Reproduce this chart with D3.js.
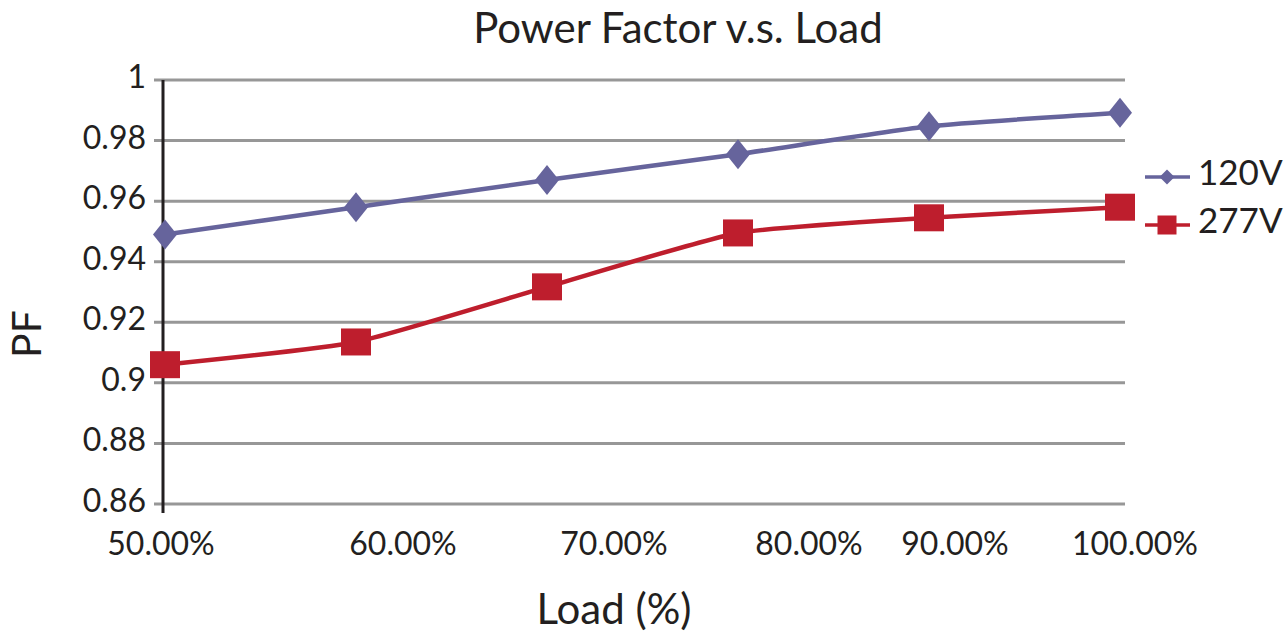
<!DOCTYPE html>
<html>
<head>
<meta charset="utf-8">
<script src="https://cdn.jsdelivr.net/npm/d3@7"></script>
<style>
  html, body { margin: 0; padding: 0; background: #fff; }
  svg { display: block; font-family: Lato, "Open Sans", sans-serif; }
</style>
</head>
<body>
<svg id="chart" width="1286" height="635"></svg>
<script>
// ---- data ----
const categories = ["50.00%", "60.00%", "70.00%", "80.00%", "90.00%", "100.00%"];
const pf120 = [0.949, 0.958, 0.967, 0.9755, 0.9847, 0.9892];
const pf277 = [0.906, 0.9135, 0.9317, 0.9495, 0.9545, 0.958];
const yTicks = [0.86, 0.88, 0.9, 0.92, 0.94, 0.96, 0.98, 1];
const seriesNames = ["120V", "277V"];

// ---- layout / style ----
const labelNudge = [-2, 49, 69, 73, 28, 17]; // horizontal offsets of x tick labels (px)
const colors = { "120V": "#66649c", "277V": "#be1e2d" };

const svg = d3.select("#chart");
const x = d3.scalePoint().domain(categories).range([165, 1120]);
const y = d3.scaleLinear().domain([0.86, 1]).range([504, 80]);

// gridlines
svg.append("g").selectAll("line").data(yTicks).join("line")
  .attr("x1", 154).attr("x2", 1125)
  .attr("y1", d => y(d)).attr("y2", d => y(d))
  .attr("stroke", "#979797").attr("stroke-width", 3);

// y axis line
svg.append("line").attr("x1", 163).attr("x2", 163)
  .attr("y1", y(1)).attr("y2", y(0.86) + 9)
  .attr("stroke", "#231f20").attr("stroke-width", 3);

// y tick labels
svg.append("g").selectAll("text").data(yTicks).join("text")
  .attr("x", 146).attr("y", d => y(d) + 8)
  .attr("text-anchor", "end").attr("font-size", 32).attr("fill", "#231f20")
  .text(d => d3.format("~g")(d));

// x tick labels
svg.append("g").selectAll("text").data(categories).join("text")
  .attr("x", (d, i) => x(d) - 2 + labelNudge[i]).attr("y", 555)
  .attr("text-anchor", "middle").attr("font-size", 32).attr("fill", "#231f20")
  .text(d => d);

// series
const series = [
  { name: "120V", values: pf120 },
  { name: "277V", values: pf277 }
];
const line = d3.line()
  .x((d, i) => x(categories[i]))
  .y(d => y(d))
  .curve(d3.curveCardinal.tension(0.5));

series.forEach(s => {
  svg.append("path").datum(s.values)
    .attr("d", line).attr("fill", "none")
    .attr("stroke", colors[s.name]).attr("stroke-width", 4.5);
});

// markers 120V: diamonds
svg.append("g").selectAll("path").data(pf120).join("path")
  .attr("transform", (d, i) => `translate(${x(categories[i])},${y(d)})`)
  .attr("d", "M0,-15L12,0L0,15L-12,0Z")
  .attr("fill", colors["120V"]);

// markers 277V: squares
svg.append("g").selectAll("rect").data(pf277).join("rect")
  .attr("x", (d, i) => x(categories[i]) - 15).attr("y", d => y(d) - 13.5)
  .attr("width", 30).attr("height", 27)
  .attr("fill", colors["277V"]);

// legend
const leg = svg.append("g");
const legY = [177, 225];
seriesNames.forEach((name, i) => {
  const g = leg.append("g").attr("transform", `translate(1167,${legY[i]})`);
  g.append("line").attr("x1", -22).attr("x2", 23).attr("y1", 0).attr("y2", 0)
    .attr("stroke", colors[name]).attr("stroke-width", 3.5);
  if (i === 0) {
    g.append("path").attr("d", "M0,-7.5L7.5,0L0,7.5L-7.5,0Z").attr("fill", colors[name]);
  } else {
    g.append("rect").attr("x", -9.5).attr("y", -9.5).attr("width", 19).attr("height", 19)
      .attr("fill", colors[name]);
  }
  g.append("text").attr("x", 31).attr("y", 8)
    .attr("font-size", 35).attr("fill", "#231f20").text(name);
});

// title
svg.append("text").attr("x", 678).attr("y", 43)
  .attr("text-anchor", "middle").attr("font-size", 42).attr("fill", "#231f20")
  .text("Power Factor v.s. Load");

// axis titles
svg.append("text").attr("x", 614).attr("y", 624)
  .attr("text-anchor", "middle").attr("font-size", 42).attr("fill", "#231f20")
  .text("Load (%)");

svg.append("text").attr("transform", "translate(41,334) rotate(-90)")
  .attr("text-anchor", "middle").attr("font-size", 41).attr("fill", "#231f20")
  .text("PF");
</script>
</body>
</html>
